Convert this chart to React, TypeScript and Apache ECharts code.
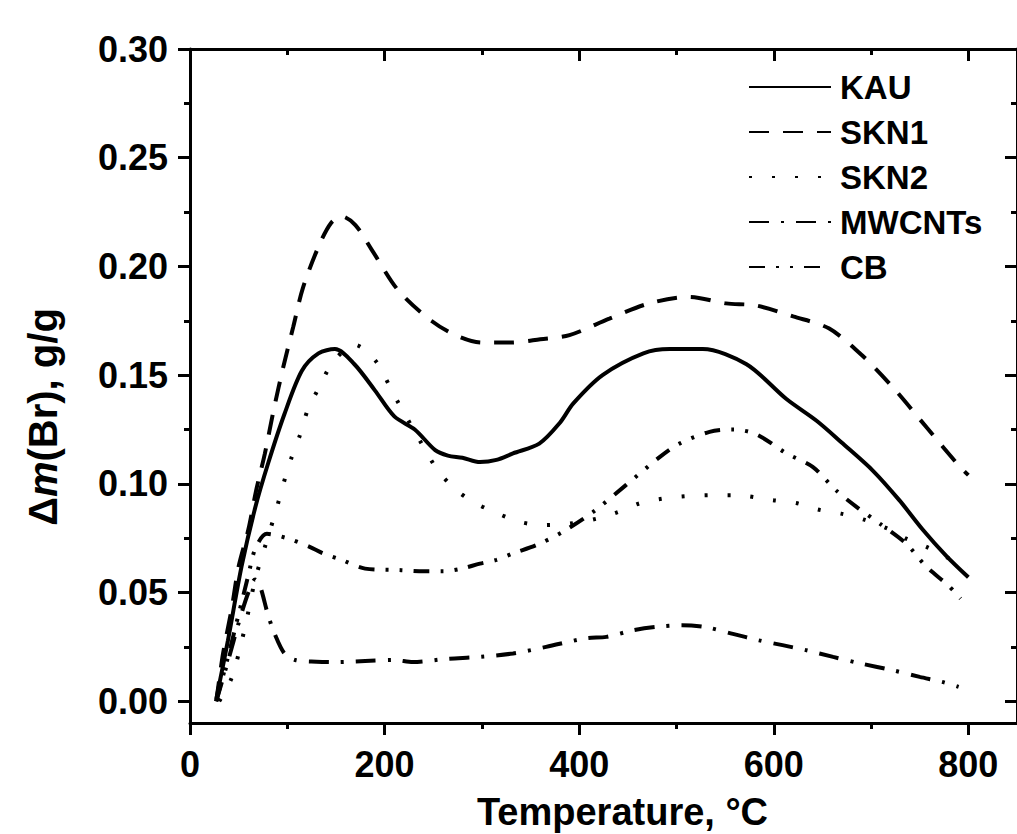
import React, { useEffect, useRef } from "react";
import * as echarts from "echarts";

const seriesNames = ["KAU", "SKN1", "SKN2", "MWCNTs", "CB"];

const kau: [number, number][] = [
  [27, 0.001], [39, 0.028], [53, 0.062], [67, 0.089], [80, 0.109], [97, 0.132],
  [115, 0.152], [132, 0.16], [149, 0.162], [169, 0.155], [190, 0.143], [210, 0.131],
  [231, 0.125], [252, 0.1155], [265, 0.113], [280, 0.112], [298, 0.11], [315, 0.111],
  [332, 0.114], [359, 0.1185], [380, 0.128], [394, 0.137], [424, 0.15], [466, 0.16],
  [493, 0.162], [527, 0.162], [572, 0.155], [613, 0.139], [644, 0.129], [671, 0.1185],
  [702, 0.106], [729, 0.0925], [753, 0.079], [777, 0.067], [800, 0.057],
];

const skn1: [number, number][] = [
  [27, 0.0], [34, 0.022], [43, 0.043], [50, 0.062], [60, 0.079], [68, 0.097],
  [77, 0.114], [86, 0.134], [96, 0.154], [106, 0.172], [116, 0.19], [132, 0.209],
  [145, 0.22], [156, 0.223], [170, 0.219], [187, 0.2075], [214, 0.189], [248, 0.175],
  [275, 0.168], [300, 0.165], [330, 0.165], [360, 0.1665], [390, 0.1684], [431, 0.176],
  [472, 0.183], [513, 0.186], [551, 0.183], [582, 0.182], [620, 0.177], [657, 0.1714],
  [691, 0.159], [722, 0.1446], [757, 0.126], [791, 0.108], [800, 0.104],
];

const skn2: [number, number][] = [
  [30, 0.0], [43, 0.011], [56, 0.033], [67, 0.056], [77, 0.071], [89, 0.0886],
  [96, 0.1], [104, 0.1116], [113, 0.1224], [121, 0.134], [133, 0.1446], [147, 0.156],
  [169, 0.164], [190, 0.157], [204, 0.146], [212, 0.139], [240, 0.117], [255, 0.106],
  [274, 0.097], [294, 0.091], [316, 0.0864], [339, 0.0825], [363, 0.081], [390, 0.0817],
  [418, 0.084], [440, 0.087], [462, 0.091], [486, 0.0932], [510, 0.0943], [536, 0.0948],
  [560, 0.0948], [599, 0.0925], [623, 0.0912], [645, 0.0882], [669, 0.0863], [693, 0.0835],
  [717, 0.0794], [736, 0.0748], [757, 0.071], [777, 0.0664], [799, 0.0618],
];

const mwcnts: [number, number][] = [
  [27, 0.0], [40, 0.02], [50, 0.036], [60, 0.05], [67, 0.056], [72, 0.053],
  [80, 0.04], [87, 0.031], [97, 0.022], [108, 0.019], [130, 0.0182], [149, 0.018],
  [180, 0.0185], [210, 0.019], [229, 0.018], [264, 0.0195], [298, 0.0204], [332, 0.022],
  [366, 0.025], [407, 0.029], [428, 0.0296], [455, 0.0326], [479, 0.0342], [506, 0.035],
  [531, 0.034], [558, 0.031], [585, 0.028], [609, 0.0258], [633, 0.0235], [661, 0.0204],
  [688, 0.0175], [722, 0.0143], [750, 0.0112], [773, 0.0089], [790, 0.0066],
];

const cb: [number, number][] = [
  [27, 0.0], [40, 0.022], [50, 0.04], [60, 0.058], [67, 0.07], [79, 0.077],
  [101, 0.0748], [123, 0.071], [137, 0.068], [156, 0.065], [180, 0.061], [217, 0.0603],
  [240, 0.0598], [260, 0.0598], [279, 0.061], [298, 0.0633], [315, 0.065], [332, 0.068],
  [356, 0.0718], [383, 0.0779], [414, 0.087], [448, 0.0994], [483, 0.1124], [503, 0.1185],
  [534, 0.1239], [558, 0.125], [582, 0.1228], [613, 0.114], [640, 0.1078], [664, 0.097],
  [685, 0.0894], [709, 0.0817], [736, 0.0725], [757, 0.0618], [779, 0.0534], [792, 0.0472],
];

const seriesData = [kau, skn1, skn2, mwcnts, cb];

const xMajorTicks = [0, 200, 400, 600, 800];
const xMinorTicks = [100, 300, 500, 700];
const yMajorTicks = [0, 0.05, 0.1, 0.15, 0.2, 0.25, 0.3];
const yMinorTicks = [0.025, 0.075, 0.125, 0.175, 0.225, 0.275];

const X_MIN = 0;
const X_MAX = 850;
const Y_MIN = -0.01;
const Y_MAX = 0.3;

const FONT = "'Liberation Sans', Arial, Helvetica, sans-serif";

const dashTypes: any[] = ["solid", [20, 14], [3, 20], [20, 12, 3, 12], [16, 11, 3, 11, 3, 11]];

export default function App() {
  const ref = useRef<HTMLDivElement>(null);

  useEffect(() => {
    if (!ref.current) return;
    const chart = echarts.init(ref.current, undefined, { renderer: "svg" });

    const axisLineStyle = { color: "#000", width: 3 };

    const xAxisBase = (extra: any) => ({
      type: "value",
      min: X_MIN,
      max: X_MAX,
      splitLine: { show: false },
      ...extra,
    });
    const yAxisBase = (extra: any) => ({
      type: "value",
      min: Y_MIN,
      max: Y_MAX,
      splitLine: { show: false },
      ...extra,
    });

    const option: any = {
      animation: false,
      backgroundColor: "#fff",
      textStyle: { fontFamily: FONT, fontWeight: "bold", color: "#000" },
      grid: {
        left: 190,
        right: 0,
        top: 49,
        bottom: 111,
        containLabel: false,
        outerBoundsMode: "none",
      },
      legend: {
        data: seriesNames,
        orient: "vertical",
        left: 748,
        top: 69,
        padding: 0,
        itemWidth: 82,
        itemHeight: 2,
        itemGap: 9,
        itemStyle: { color: "transparent", borderColor: "transparent", borderWidth: 0, opacity: 0 },
        textStyle: {
          fontSize: 33,
          fontWeight: "bold",
          fontFamily: FONT,
          color: "#000",
          lineHeight: 36,
          padding: [0, 0, 0, 4],
        },
      },
      xAxis: [
        xAxisBase({
          position: "bottom",
          name: "Temperature, °C",
          nameLocation: "middle",
          nameGap: 70,
          nameTextStyle: {
            fontSize: 38,
            lineHeight: 38,
            fontWeight: "bold",
            fontFamily: FONT,
            color: "#000",
            padding: [0, 0, 0, 38],
          },
          axisLine: { show: true, onZero: false, lineStyle: axisLineStyle },
          axisTick: { show: true, inside: false, length: 12, lineStyle: { width: 3, color: "#000" }, customValues: xMajorTicks },
          axisLabel: {
            show: true,
            customValues: xMajorTicks,
            fontSize: 36,
            fontWeight: "bold",
            fontFamily: FONT,
            color: "#000",
            margin: 23,
          },
        }),
        xAxisBase({
          position: "bottom",
          axisLine: { show: false, onZero: false },
          axisTick: { show: true, inside: false, length: 6, lineStyle: { width: 3, color: "#000" }, customValues: xMinorTicks },
          axisLabel: { show: false },
        }),
        xAxisBase({
          position: "top",
          axisLine: { show: true, onZero: false, lineStyle: axisLineStyle },
          axisTick: { show: true, inside: true, length: 12, lineStyle: { width: 3, color: "#000" }, customValues: xMajorTicks },
          axisLabel: { show: false },
        }),
        xAxisBase({
          position: "top",
          axisLine: { show: false, onZero: false },
          axisTick: { show: true, inside: true, length: 6, lineStyle: { width: 3, color: "#000" }, customValues: xMinorTicks },
          axisLabel: { show: false },
        }),
      ],
      yAxis: [
        yAxisBase({
          position: "left",
          name: "{a|Δ}{i|m}{a|(Br), g/g}",
          nameLocation: "middle",
          nameGap: 127,
          nameTextStyle: {
            padding: [0, 62, 0, 0],
            rich: {
              a: { fontSize: 40, fontWeight: "bold", fontFamily: FONT, color: "#000" },
              i: { fontSize: 40, fontWeight: "bold", fontStyle: "italic", fontFamily: FONT, color: "#000" },
            },
          },
          axisLine: { show: true, onZero: false, lineStyle: axisLineStyle },
          axisTick: { show: true, inside: false, length: 12, lineStyle: { width: 3, color: "#000" }, customValues: yMajorTicks },
          axisLabel: {
            show: true,
            customValues: yMajorTicks,
            formatter: (v: number) => v.toFixed(2),
            fontSize: 36,
            fontWeight: "bold",
            fontFamily: FONT,
            color: "#000",
            margin: 22,
          },
        }),
        yAxisBase({
          position: "left",
          axisLine: { show: false, onZero: false },
          axisTick: { show: true, inside: false, length: 6, lineStyle: { width: 3, color: "#000" }, customValues: yMinorTicks },
          axisLabel: { show: false },
        }),
        yAxisBase({
          position: "right",
          axisLine: { show: true, onZero: false, lineStyle: axisLineStyle },
          axisTick: { show: true, inside: true, length: 12, lineStyle: { width: 3, color: "#000" }, customValues: yMajorTicks },
          axisLabel: { show: false },
        }),
        yAxisBase({
          position: "right",
          axisLine: { show: false, onZero: false },
          axisTick: { show: true, inside: true, length: 6, lineStyle: { width: 3, color: "#000" }, customValues: yMinorTicks },
          axisLabel: { show: false },
        }),
      ],
      series: seriesNames.map((name, i) => ({
        name,
        type: "line",
        xAxisIndex: 0,
        yAxisIndex: 0,
        data: seriesData[i],
        symbol: "none",
        showSymbol: false,
        smooth: 0.3,
        itemStyle: { color: "#000" },
        lineStyle: { color: "#000", width: 4, type: dashTypes[i] },
        emphasis: { disabled: true },
      })),
    };

    chart.setOption(option);
    return () => chart.dispose();
  }, []);

  return (
    <div
      ref={ref}
      style={{ position: "absolute", left: 0, top: 0, width: 1017, height: 834 }}
    />
  );
}
